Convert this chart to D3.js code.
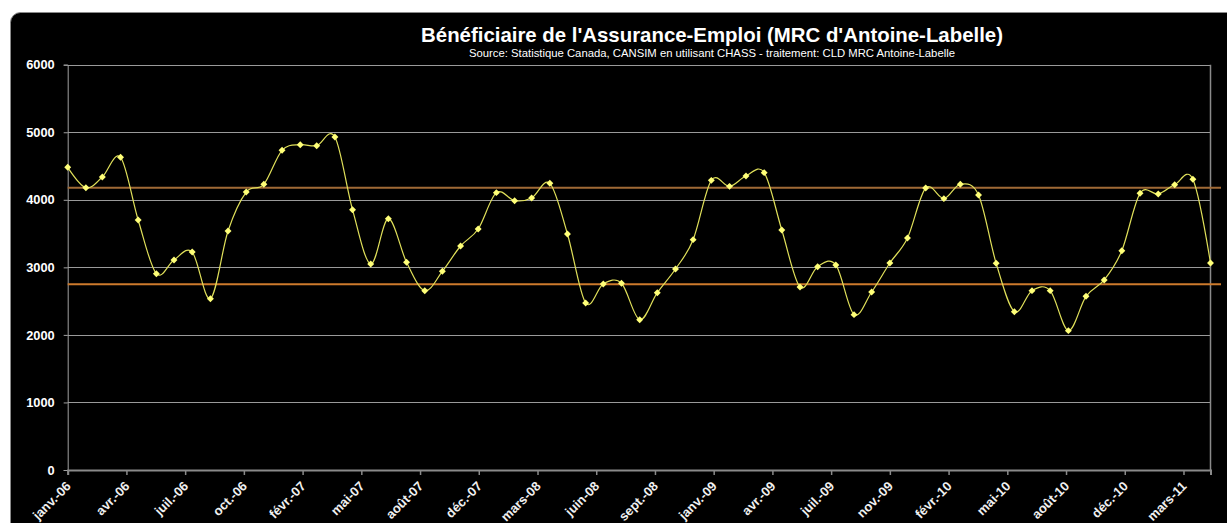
<!DOCTYPE html>
<html>
<head>
<meta charset="utf-8">
<script src="https://cdn.jsdelivr.net/npm/d3@7"></script>
<style>
  body { margin: 0; background: #fff; }
  svg { display: block; font-family: "Liberation Sans", Arial, sans-serif; }
</style>
</head>
<body>
<div id="chart"></div>
<script>
// monthly data, janv. 2006 -> mai 2011
var months = [
  "2006-01","2006-02","2006-03","2006-04","2006-05","2006-06","2006-07","2006-08","2006-09","2006-10","2006-11","2006-12",
  "2007-01","2007-02","2007-03","2007-04","2007-05","2007-06","2007-07","2007-08","2007-09","2007-10","2007-11","2007-12",
  "2008-01","2008-02","2008-03","2008-04","2008-05","2008-06","2008-07","2008-08","2008-09","2008-10","2008-11","2008-12",
  "2009-01","2009-02","2009-03","2009-04","2009-05","2009-06","2009-07","2009-08","2009-09","2009-10","2009-11","2009-12",
  "2010-01","2010-02","2010-03","2010-04","2010-05","2010-06","2010-07","2010-08","2010-09","2010-10","2010-11","2010-12",
  "2011-01","2011-02","2011-03","2011-04","2011-05"
];
var beneficiaires = [
  4481, 4179, 4337, 4629, 3701, 2906, 3109, 3227, 2536, 3538, 4115, 4229,
  4733, 4816, 4801, 4930, 3854, 3050, 3720, 3075, 2654, 2941, 3316, 3568,
  4106, 3987, 4027, 4244, 3494, 2472, 2754, 2764, 2225, 2625, 2976, 3410,
  4288, 4199, 4352, 4402, 3553, 2709, 3010, 3035, 2300, 2635, 3064, 3435,
  4175, 4017, 4229, 4071, 3060, 2344, 2655, 2655, 2063, 2571, 2813, 3247,
  4096, 4086, 4224, 4303, 3064
];
// reference lines
var refHaut = 4179;
var refBas = 2749;

var yTicks = [0, 1000, 2000, 3000, 4000, 5000, 6000];
// excel date axis, major unit 100 days
var xTickDays = [0, 100, 200, 300, 400, 500, 600, 700, 800, 900, 1000, 1100, 1200, 1300, 1400, 1500, 1600, 1700, 1800, 1900];
var xTickLabels = ["janv.-06","avr.-06","juil.-06","oct.-06","févr.-07","mai-07","août-07","déc.-07","mars-08","juin-08",
  "sept.-08","janv.-09","avr.-09","juil.-09","nov.-09","févr.-10","mai-10","août-10","déc.-10","mars-11"];

var w = 1227, h = 523;
var plotL = 67.7, plotR = 1210.5, plotT = 64.7, plotB = 470;

var parse = d3.utcParse("%Y-%m");
var data = months.map((m, i) => ({ date: parse(m), value: beneficiaires[i] }));

var svg = d3.select("#chart").append("svg")
  .attr("width", w)
  .attr("height", h);

svg.append("rect")
  .attr("x", 10.5).attr("y", 12.5)
  .attr("width", 1260).attr("height", 540)
  .attr("rx", 10)
  .attr("fill", "#000")
  .attr("stroke", "#8a8a8a");

var xScale = d3.scaleUtc()
  .domain([data[0].date, data[data.length - 1].date])
  .range([plotL, plotR]);

var yScale = d3.scaleLinear()
  .domain([0, 6000])
  .range([plotB, plotT]);

// gridlines
svg.append("g")
  .selectAll("line")
  .data(yTicks.filter(d => d > 0))
  .enter()
  .append("line")
  .attr("x1", plotL).attr("x2", plotR)
  .attr("y1", d => Math.round(yScale(d)) + 0.5).attr("y2", d => Math.round(yScale(d)) + 0.5)
  .attr("stroke", "#9a9a9a")
  .attr("stroke-width", 1);

// right border of plot area
svg.append("line")
  .attr("x1", plotR).attr("x2", plotR)
  .attr("y1", plotT).attr("y2", plotB)
  .attr("stroke", "#8a8a8a")
  .attr("stroke-width", 1.5);

// y axis
var yAxis = d3.axisLeft(yScale).tickValues(yTicks).tickFormat(d3.format("d")).tickSize(4).tickPadding(9);
var gy = svg.append("g")
  .attr("transform", `translate(${plotL},0)`)
  .call(yAxis);
gy.select(".domain").attr("stroke", "#a0a0a0");
gy.selectAll(".tick line").attr("stroke", "#a0a0a0");
gy.selectAll(".tick text")
  .attr("fill", "#fff")
  .style("font-size", "12.8px")
  .style("font-weight", "bold");

// x axis
var start = data[0].date;
var xTicks = xTickDays.map(d => d3.utcDay.offset(start, d));
var xAxis = d3.axisBottom(xScale).tickValues(xTicks).tickSize(5).tickFormat("");
var gx = svg.append("g")
  .attr("transform", `translate(0,${plotB})`)
  .call(xAxis);
gx.select(".domain").attr("stroke", "#8a8a8a").attr("stroke-width", 2);
gx.selectAll(".tick line").attr("stroke", "#8a8a8a").attr("stroke-width", 1.5);

svg.append("g")
  .selectAll("text")
  .data(xTicks)
  .enter()
  .append("text")
  .attr("transform", d => `translate(${xScale(d) + 4},${plotB + 17}) rotate(-45)`)
  .attr("text-anchor", "end")
  .attr("fill", "#f0f0f0")
  .style("font-size", "13px")
  .style("font-weight", "bold")
  .text((d, i) => xTickLabels[i]);

// reference lines
svg.append("line")
  .attr("x1", plotL).attr("x2", 1221)
  .attr("y1", yScale(refHaut)).attr("y2", yScale(refHaut))
  .attr("stroke", "#a06a36")
  .attr("stroke-width", 2);
svg.append("line")
  .attr("x1", plotL).attr("x2", 1221)
  .attr("y1", yScale(refBas)).attr("y2", yScale(refBas))
  .attr("stroke", "#cc7a2c")
  .attr("stroke-width", 2);

// smoothed series
var line = d3.line()
  .x(d => xScale(d.date))
  .y(d => yScale(d.value))
  .curve(d3.curveCatmullRom.alpha(0));

svg.append("path")
  .datum(data)
  .attr("d", line)
  .attr("fill", "none")
  .attr("stroke", "#e0e05a")
  .attr("stroke-width", 1.2);

svg.append("g")
  .selectAll("path")
  .data(data)
  .enter()
  .append("path")
  .attr("transform", d => `translate(${xScale(d.date)},${yScale(d.value)}) rotate(45)`)
  .attr("d", d3.symbol().type(d3.symbolSquare).size(24))
  .attr("fill", "#ffff78");

// titles
svg.append("text")
  .attr("x", 712).attr("y", 42)
  .attr("text-anchor", "middle")
  .attr("fill", "#fff")
  .style("font-size", "20.4px")
  .style("font-weight", "bold")
  .text("Bénéficiaire de l'Assurance-Emploi (MRC d'Antoine-Labelle)");

svg.append("text")
  .attr("x", 712).attr("y", 57)
  .attr("text-anchor", "middle")
  .attr("fill", "#fff")
  .style("font-size", "11.3px")
  .text("Source: Statistique Canada, CANSIM  en utilisant CHASS  - traitement: CLD MRC Antoine-Labelle");
</script>
</body>
</html>
